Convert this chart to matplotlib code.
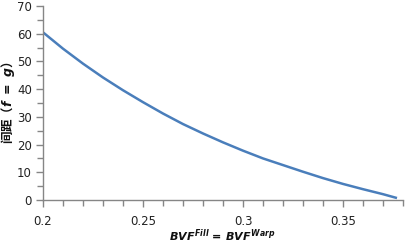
import numpy as np
import matplotlib
matplotlib.use('Agg')
import matplotlib.pyplot as plt
from matplotlib.ticker import MultipleLocator, FuncFormatter

# values
bvf = [0.20, 0.21, 0.22, 0.23, 0.24, 0.25, 0.26, 0.27, 0.28, 0.29,
       0.30, 0.31, 0.32, 0.33, 0.34, 0.35, 0.36, 0.37, 0.377]
spacing = [60.5, 54.6, 49.2, 44.2, 39.6, 35.3, 31.2, 27.4, 24.0, 20.8,
           17.8, 15.0, 12.6, 10.2, 7.9, 5.8, 3.9, 2.1, 0.7]

plt.rcParams['font.family'] = ['DejaVu Sans']
plt.rcParams['mathtext.fontset'] = 'custom'
plt.rcParams['mathtext.it'] = 'DejaVu Sans:italic:bold'
plt.rcParams['mathtext.rm'] = 'DejaVu Sans:bold'

fig = plt.figure(figsize=(4.06, 2.44), dpi=100)
ax = fig.add_axes([43/406, 1-200/244, 360/406, 194/244])

ax.plot(bvf, spacing, color='#4A7EBB', lw=1.8, solid_capstyle='butt')

ax.set_xlim(0.2, 0.38)
ax.set_ylim(0, 70)
ax.xaxis.set_major_locator(MultipleLocator(0.05))
ax.xaxis.set_minor_locator(MultipleLocator(0.01))
ax.yaxis.set_major_locator(MultipleLocator(10))
ax.yaxis.set_minor_locator(MultipleLocator(5))
ax.xaxis.set_major_formatter(FuncFormatter(lambda v, p: '%g' % round(v, 2)))

for s in ['top', 'right']:
    ax.spines[s].set_visible(False)
for s in ['left', 'bottom']:
    ax.spines[s].set_color('#868686')
    ax.spines[s].set_linewidth(1.0)

ax.tick_params(which='both', direction='out', color='#868686', width=1.0,
               labelsize=8.5, labelcolor='#222222')
ax.tick_params(axis='y', which='major', length=5, pad=3)
ax.tick_params(axis='y', which='minor', length=4)
ax.tick_params(axis='x', which='major', length=5, pad=6)
ax.tick_params(axis='x', which='minor', length=4)

# axis titles placed in figure pixels
fig.text(222/406, 1-236/244, r'$BVF^{Fill}$ = $BVF^{Warp}$', fontsize=8,
         fontweight='bold', color='#111111', ha='center', va='center')
fig.text(8/406, 1-103/244, '间距（$f\\ =\\ g$）',
         family=['Noto Sans CJK SC', 'DejaVu Sans'], fontsize=9,
         fontweight='bold', color='#111111', rotation=90,
         ha='center', va='center')

fig.savefig('out.png', dpi=100)
